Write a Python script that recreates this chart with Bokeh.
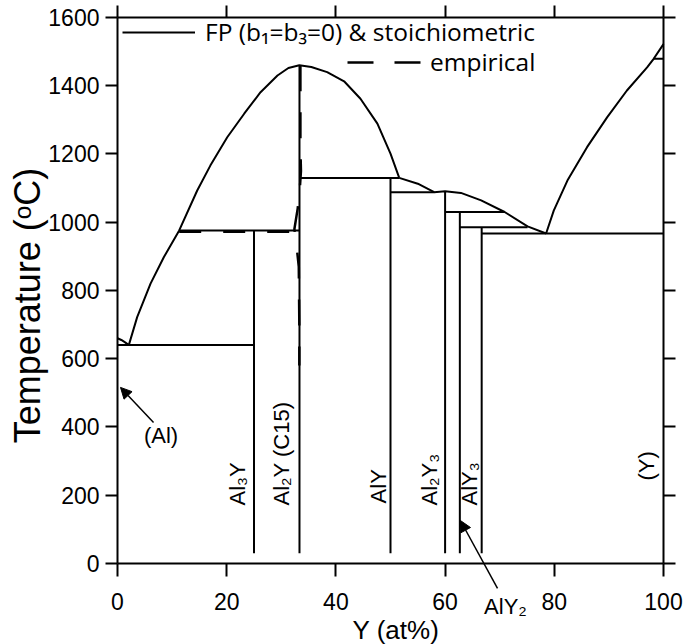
import math
from bokeh.plotting import figure
from bokeh.models import (Range1d, FixedTicker, LinearAxis, Legend, LegendItem,
                          Arrow, NormalHead, Label, LabelSet, ColumnDataSource)
from bokeh.core.properties import value
from bokeh.embed import file_html
from bokeh.resources import INLINE

# ---------------- data ----------------
# Al-rich end: small liquidus from pure Al to the eutectic
al_end_x = [0.0, 0.7, 1.4, 2.07]
al_end_T = [660, 655, 648, 640]
# liquidus from the Al eutectic over the Al2Y congruent maximum
liq1_x = [2.07, 3.6, 6.05, 8.5, 11.3, 14.6, 17.0, 20.1, 23.2, 26.2, 29.3, 31.3, 33.3,
          35.5, 38.4, 41.5, 44.5, 47.6, 50.0, 51.6]
liq1_T = [640, 722, 820, 898, 976, 1093, 1166, 1249, 1318, 1381, 1430, 1452, 1460,
          1455, 1440, 1413, 1362, 1289, 1201, 1130]
# liquidus between AlY peritectic and the Al2Y3 maximum, down to the eutectic
liq2_x = [51.6, 55.0, 58.0, 60.0, 62.9, 66.6, 70.9, 75.1, 78.5]
liq2_T = [1130, 1113, 1088, 1091, 1086, 1064, 1030, 988, 967]
# Y-rich liquidus
liq3_x = [78.5, 79.9, 82.4, 86.0, 89.7, 93.3, 97.0, 98.2, 100.0]
liq3_T = [967, 1034, 1122, 1220, 1308, 1386, 1454, 1479, 1522]

# invariant (horizontal) lines
inv_x0 = [0.0, 11.3, 33.33, 50.0, 60.0, 62.7, 66.7, 98.2]
inv_x1 = [25.0, 33.33, 51.6, 58.0, 70.9, 75.1, 100.0, 100.0]
inv_T = [640, 976, 1130, 1088, 1030, 985, 967, 1479]

# compound lines (vertical)
cmp_x = [25.0, 33.33, 50.0, 60.0, 62.7, 66.7]
cmp_top = [976, 1460, 1130, 1090, 1030, 985]
cmp_bottom = [30, 30, 30, 30, 30, 30]

# empirical (dashed) model
emp_x = [33.5, 33.5, 33.6, 33.4, 33.0, 32.4, 32.8, 33.2, 33.3, 33.3]
emp_T = [1460, 1220, 1150, 1100, 1040, 980, 930, 870, 700, 580]
emp_h_x = [11.3, 33.0]
emp_h_T = [973, 973]

# ticks
x_ticks = [0, 20, 40, 60, 80, 100]
y_ticks = [0, 200, 400, 600, 800, 1000, 1200, 1400, 1600]

# phase labels
phase_names = ["Al\u2083Y", "Al\u2082Y (C15)", "AlY", "Al\u2082Y\u2083", "AlY\u2083", "(Y)"]
phase_x = [23.4, 31.5, 49.1, 58.6, 65.9, 98.2]
phase_T = [170, 170, 176, 170, 170, 243]

legend_solid = "FP (b\u2081=b\u2083=0) & stoichiometric"
legend_dash = "empirical"
x_title = "Y (at%)"
y_title = "Temperature (\u1d52C)"

FONT = "Liberation Sans"

# the frame covers the whole canvas; the axes sit at fixed data locations
p = figure(width=688, height=644, x_range=Range1d(-21.43, 104.58),
           y_range=Range1d(-237.4, 1649.8), title=None,
           output_backend="svg", toolbar_location=None,
           min_border_left=0, min_border_right=0, min_border_top=0, min_border_bottom=0)
p.grid.visible = False
p.outline_line_color = None
p.background_fill_color = "white"
p.border_fill_color = "white"

LW = 2
r_liq = p.line(liq1_x, liq1_T, line_color="black", line_width=LW)
p.line(al_end_x, al_end_T, line_color="black", line_width=LW)
p.line(liq2_x, liq2_T, line_color="black", line_width=LW)
p.line(liq3_x, liq3_T, line_color="black", line_width=LW)
p.segment(x0=inv_x0, y0=inv_T, x1=inv_x1, y1=inv_T, line_color="black", line_width=LW)
p.segment(x0=cmp_x, y0=cmp_bottom, x1=cmp_x, y1=cmp_top, line_color="black", line_width=LW)
r_emp = p.line(emp_x, emp_T, line_color="black", line_width=2.5, line_dash="26 21")
p.line(emp_h_x, emp_h_T, line_color="black", line_width=3, line_dash="22 22")

# axes: box with outward ticks on all four sides
p.add_layout(LinearAxis(), "above")
p.add_layout(LinearAxis(), "right")
for ax in p.axis:
    ax.axis_line_width = 2
    ax.major_tick_line_width = 2
    ax.major_tick_out = 12
    ax.major_tick_in = 0
    ax.minor_tick_out = 0
    ax.minor_tick_in = 0
    ax.major_label_text_font = FONT
    ax.major_label_text_font_size = "23px"
    ax.major_label_text_color = "black"
    ax.axis_label_text_font = FONT
    ax.axis_label_text_font_style = "normal"
    ax.axis_label_text_color = "black"
for ax in p.xaxis:
    ax.ticker = FixedTicker(ticks=x_ticks)
    ax.bounds = (0, 100)
for ax in p.yaxis:
    ax.ticker = FixedTicker(ticks=y_ticks)
    ax.bounds = (0, 1600)

p.below[0].fixed_location = 0
p.above[0].fixed_location = 1600
p.left[0].fixed_location = 0
p.right[0].fixed_location = 100
p.above[0].major_label_text_color = None
p.right[0].major_label_text_color = None

bx = p.below[0]
bx.major_tick_out = 13
bx.major_label_standoff = 17
p.left[0].major_label_standoff = 6

# axis titles
p.add_layout(Label(x=51.0, y=-195, text=x_title, text_align="center", text_baseline="middle",
                   text_font=FONT, text_font_size="26px", text_color="black"))
p.add_layout(Label(x=-16.4, y=756, text=y_title, angle=math.pi / 2,
                   text_align="center", text_baseline="middle",
                   text_font=FONT, text_font_size="36px", text_color="black"))

# phase labels (rotated)
src = ColumnDataSource(dict(x=phase_x, y=phase_T, t=phase_names))
p.add_layout(LabelSet(x="x", y="y", text="t", source=src, angle=math.pi / 2,
                      text_align="left", text_baseline="alphabetic",
                      text_font=value(FONT), text_font_size="22px", text_color="black"))

p.add_layout(Label(x=7.97, y=375, text="(Al)", text_align="center", text_baseline="middle",
                   text_font=FONT, text_font_size="22px", text_color="black"))
p.add_layout(Label(x=71.06, y=-125, text="AlY\u2082", text_align="center", text_baseline="middle",
                   text_font=FONT, text_font_size="22px", text_color="black"))
p.add_layout(Arrow(end=NormalHead(size=11, fill_color="black", line_color="black"),
                   x_start=6.6, y_start=413, x_end=0.55, y_end=516, line_width=1.5))
p.add_layout(Arrow(end=NormalHead(size=11, fill_color="black", line_color="black"),
                   x_start=69.6, y_start=-73, x_end=62.8, y_end=126, line_width=1.5))

# legends (two right-aligned rows)
def make_legend(label, rend, loc, gw, standoff):
    lg = Legend(items=[LegendItem(label=label, renderers=[rend])], location=loc,
                border_line_color=None, background_fill_alpha=0, padding=0, margin=0,
                spacing=0, glyph_width=gw, glyph_height=30, label_height=30,
                label_standoff=standoff, label_text_font="Open Sans",
                label_text_font_size="24.5px", label_text_color="black")
    p.add_layout(lg)

make_legend(legend_solid, r_liq, (122, 596), 73, 10)
make_legend(legend_dash, r_emp, (347, 566), 75, 8)

open("out.html", "w").write(file_html(p, INLINE))
